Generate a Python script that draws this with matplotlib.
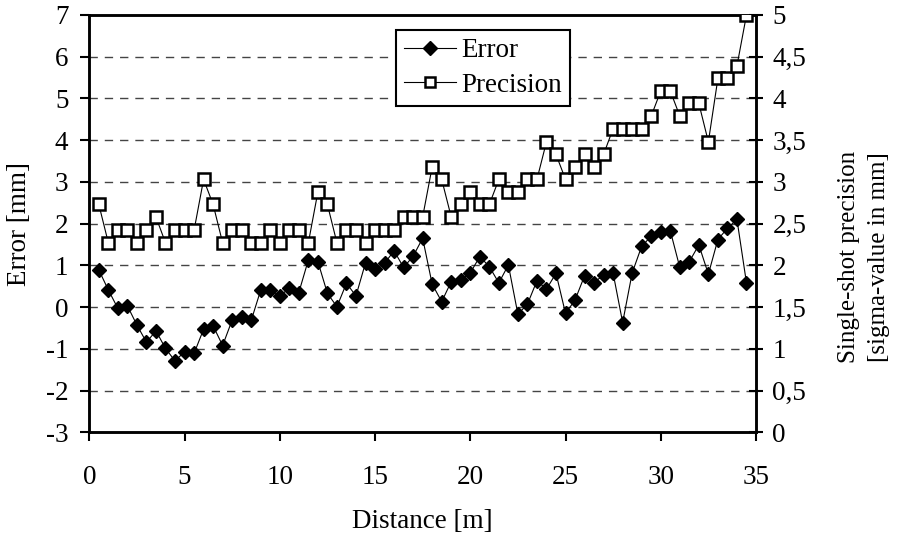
import matplotlib
matplotlib.use("Agg")
import matplotlib.pyplot as plt
from matplotlib.ticker import FuncFormatter, MultipleLocator
from matplotlib.lines import Line2D

plt.rcParams['font.family'] = ['Liberation Serif', 'DejaVu Serif']
plt.rcParams['axes.unicode_minus'] = False

distance = [0.5, 1, 1.5, 2, 2.5, 3, 3.5, 4, 4.5, 5, 5.5, 6, 6.5, 7, 7.5, 8, 8.5, 9, 9.5, 10,
            10.5, 11, 11.5, 12, 12.5, 13, 13.5, 14, 14.5, 15, 15.5, 16, 16.5, 17, 17.5, 18,
            18.5, 19, 19.5, 20, 20.5, 21, 21.5, 22, 22.5, 23, 23.5, 24, 24.5, 25, 25.5, 26,
            26.5, 27, 27.5, 28, 28.5, 29, 29.5, 30, 30.5, 31, 31.5, 32, 32.5, 33, 33.5, 34, 34.5]

error = [0.89, 0.41, -0.03, 0.03, -0.43, -0.84, -0.57, -0.99, -1.29, -1.07, -1.11, -0.53,
         -0.45, -0.92, -0.31, -0.23, -0.32, 0.41, 0.41, 0.27, 0.45, 0.35, 1.13, 1.09, 0.33,
         0.01, 0.57, 0.27, 1.06, 0.91, 1.05, 1.35, 0.95, 1.22, 1.65, 0.55, 0.13, 0.61, 0.65,
         0.82, 1.21, 0.97, 0.58, 1.01, -0.17, 0.07, 0.63, 0.43, 0.81, -0.15, 0.17, 0.75, 0.58,
         0.78, 0.81, -0.37, 0.82, 1.46, 1.70, 1.79, 1.83, 0.95, 1.09, 1.49, 0.79, 1.62, 1.89,
         2.10, 0.58]

precision = [2.73, 2.27, 2.42, 2.42, 2.27, 2.42, 2.58, 2.27, 2.42, 2.42, 2.42, 3.03, 2.73,
             2.27, 2.42, 2.42, 2.27, 2.27, 2.42, 2.27, 2.42, 2.42, 2.27, 2.88, 2.73, 2.27,
             2.42, 2.42, 2.27, 2.42, 2.42, 2.42, 2.58, 2.58, 2.58, 3.18, 3.03, 2.58, 2.73,
             2.88, 2.73, 2.73, 3.03, 2.88, 2.88, 3.03, 3.03, 3.48, 3.33, 3.03, 3.18, 3.33,
             3.18, 3.33, 3.64, 3.64, 3.64, 3.64, 3.79, 4.09, 4.09, 3.79, 3.94, 3.94, 3.48,
             4.24, 4.24, 4.39, 5.00]

W, H = 905, 537
fig = plt.figure(figsize=(W / 100, H / 100), dpi=100)
x0, x1, y0, y1 = 89.3, 756.0, 15.0, 432.3
ax = fig.add_axes([x0 / W, 1 - y1 / H, (x1 - x0) / W, (y1 - y0) / H])
ax2 = ax.twinx()

FS = 19.5

ax.set_xlim(0, 35)
ax.set_ylim(-3, 7)
ax2.set_ylim(0, 5)

ax.xaxis.set_major_locator(MultipleLocator(5))
ax.yaxis.set_major_locator(MultipleLocator(1))
ax2.yaxis.set_major_locator(MultipleLocator(0.5))
ax2.yaxis.set_major_formatter(FuncFormatter(lambda v, p: ('%g' % v).replace('.', ',')))

for yv in range(-2, 7):
    ax.axhline(yv, color='#444444', lw=1.0, ls=(0, (6, 5)), zorder=0)

ax.plot(distance, error, color='black', lw=0.8, marker='D', markersize=7.5,
        markerfacecolor='black', markeredgecolor='black', zorder=3)
ax2.plot(distance, precision, color='black', lw=0.8, marker='s', markersize=8.5,
         markerfacecolor='white', markeredgecolor='black', markeredgewidth=1.8, zorder=3)

for a in (ax, ax2):
    for s in a.spines.values():
        s.set_linewidth(1.8)
        s.set_color('black')

ax.tick_params(axis='both', labelsize=FS, direction='out', length=6.5, width=1.5, colors='black')
ax.tick_params(axis='y', pad=8.5)
ax.tick_params(axis='x', pad=17)
ax2.tick_params(axis='y', labelsize=FS, direction='inout', length=9.5, width=1.5, pad=7)

ax.set_xlabel('Distance [m]', fontsize=FS, labelpad=14)
ax.set_ylabel('Error [mm]', fontsize=FS)
ax.yaxis.set_label_coords((32 - x0) / (x1 - x0), 0.5)
ax2.set_ylabel('Single-shot precision\n[sigma-value in mm]', fontsize=18, linespacing=1.45)
ax2.yaxis.set_label_coords((838 - x0) / (x1 - x0), 1 - (257 - y0) / (y1 - y0))

handles = [
    Line2D([], [], color='black', lw=0.8, marker='D', markersize=7,
           markerfacecolor='black', markeredgecolor='black'),
    Line2D([], [], color='black', lw=0.8, marker='s', markersize=7,
           markerfacecolor='white', markeredgecolor='black', markeredgewidth=1.8),
]
leg = ax.legend(handles, ['Error', 'Precision'], loc='upper left',
                bbox_to_anchor=(396 / W, 1 - 30 / H), bbox_transform=fig.transFigure,
                fontsize=FS, frameon=True, fancybox=False, edgecolor='black',
                framealpha=1, handlelength=1.9, borderpad=0.3, labelspacing=0.35,
                handletextpad=0.2, borderaxespad=0)
leg.get_frame().set_linewidth(1.5)
leg.set_zorder(10)

fig.savefig('out.png', dpi=100)
